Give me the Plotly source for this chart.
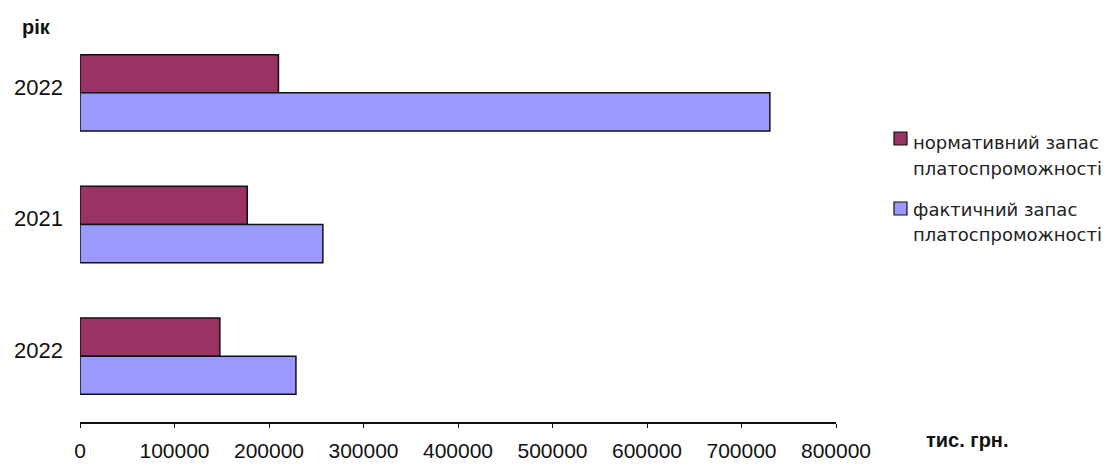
import plotly.graph_objects as go

# ---- data ----
year_labels = ["2022", "2021", "2022"]          # bottom -> top
norm_reserve = [148000, 177000, 210000]          # нормативний запас платоспроможності
fact_reserve = [228500, 257000, 730000]          # фактичний запас платоспроможності
x_ticks = [0, 100000, 200000, 300000, 400000, 500000, 600000, 700000, 800000]
series_names = ["нормативний запас<br>платоспроможності",
                "фактичний запас<br>платоспроможності"]

ypos = list(range(len(year_labels)))

W, H = 1114, 465
L, R, T, B = 80, 278, 27, 43
pw, ph = W - L - R, H - T - B

def px_x(px):
    return (px - L) / pw

def px_y(py):
    return (H - B - py) / ph

MAROON = "#993366"
LAVENDER = "#9999FF"
bw = 0.29

fig = go.Figure()
fig.add_trace(go.Bar(
    y=ypos, x=norm_reserve, orientation="h", name=series_names[0],
    width=bw, offset=0, marker=dict(color=MAROON, line=dict(color="#111", width=1.5)),
    showlegend=False,
))
fig.add_trace(go.Bar(
    y=ypos, x=fact_reserve, orientation="h", name=series_names[1],
    width=bw, offset=-bw, marker=dict(color=LAVENDER, line=dict(color="#111", width=1.5)),
    showlegend=False,
))

fig.update_layout(
    width=W, height=H,
    margin=dict(l=L, r=R, t=T, b=B, pad=0, autoexpand=False),
    paper_bgcolor="white", plot_bgcolor="white",
    barmode="overlay",
    font=dict(family="Liberation Sans, Arial, sans-serif", color="#111"),
)
fig.update_xaxes(
    range=[0, 800000], tickvals=x_ticks, ticktext=[str(v) for v in x_ticks],
    showline=True, linecolor="#111", linewidth=1.5,
    ticks="outside", ticklen=4, tickcolor="#111", tickwidth=1,
    showgrid=False, zeroline=False, automargin=False,
    tickfont=dict(size=21, family="Liberation Sans, Arial, sans-serif", color="#111"),
    ticklabelstandoff=5,
)
fig.update_yaxes(
    range=[-0.5, 2.5], tickvals=ypos, ticktext=year_labels,
    showline=False, showgrid=False, zeroline=False, ticks="", automargin=False,
    tickfont=dict(size=22, family="Liberation Sans, Arial, sans-serif", color="#111"),
    ticklabelstandoff=16, ticklabelshift=-6,
)

annotations = [
    dict(text="<b>рік</b>", x=px_x(36), y=px_y(27), xref="paper", yref="paper",
         showarrow=False, xanchor="center", yanchor="middle",
         font=dict(size=20, family="Liberation Sans, Arial, sans-serif", color="#111")),
    dict(text="<b>тис. грн.</b>", x=px_x(967), y=px_y(440), xref="paper", yref="paper",
         showarrow=False, xanchor="center", yanchor="middle",
         font=dict(size=20, family="Liberation Sans, Arial, sans-serif", color="#111")),
]

# manual legend
legend_font = dict(size=18, family="DejaVu Sans, Verdana, sans-serif", color="#222")
legend_items = [
    (MAROON, 132, [142, 168], series_names[0].split("<br>")),
    (LAVENDER, 202, [209, 235], series_names[1].split("<br>")),
]
shapes = []
for color, sy, lines_y, lines in legend_items:
    shapes.append(dict(type="rect", xref="paper", yref="paper",
                       x0=px_x(894), x1=px_x(907), y0=px_y(sy + 13), y1=px_y(sy),
                       fillcolor=color, line=dict(color="#111", width=1.2)))
    for ly, txt in zip(lines_y, lines):
        annotations.append(dict(text=txt, x=px_x(911), y=px_y(ly), xref="paper", yref="paper",
                                showarrow=False, xanchor="left", yanchor="middle",
                                font=legend_font))

fig.update_layout(annotations=annotations, shapes=shapes)
fig.write_html("out.html")
